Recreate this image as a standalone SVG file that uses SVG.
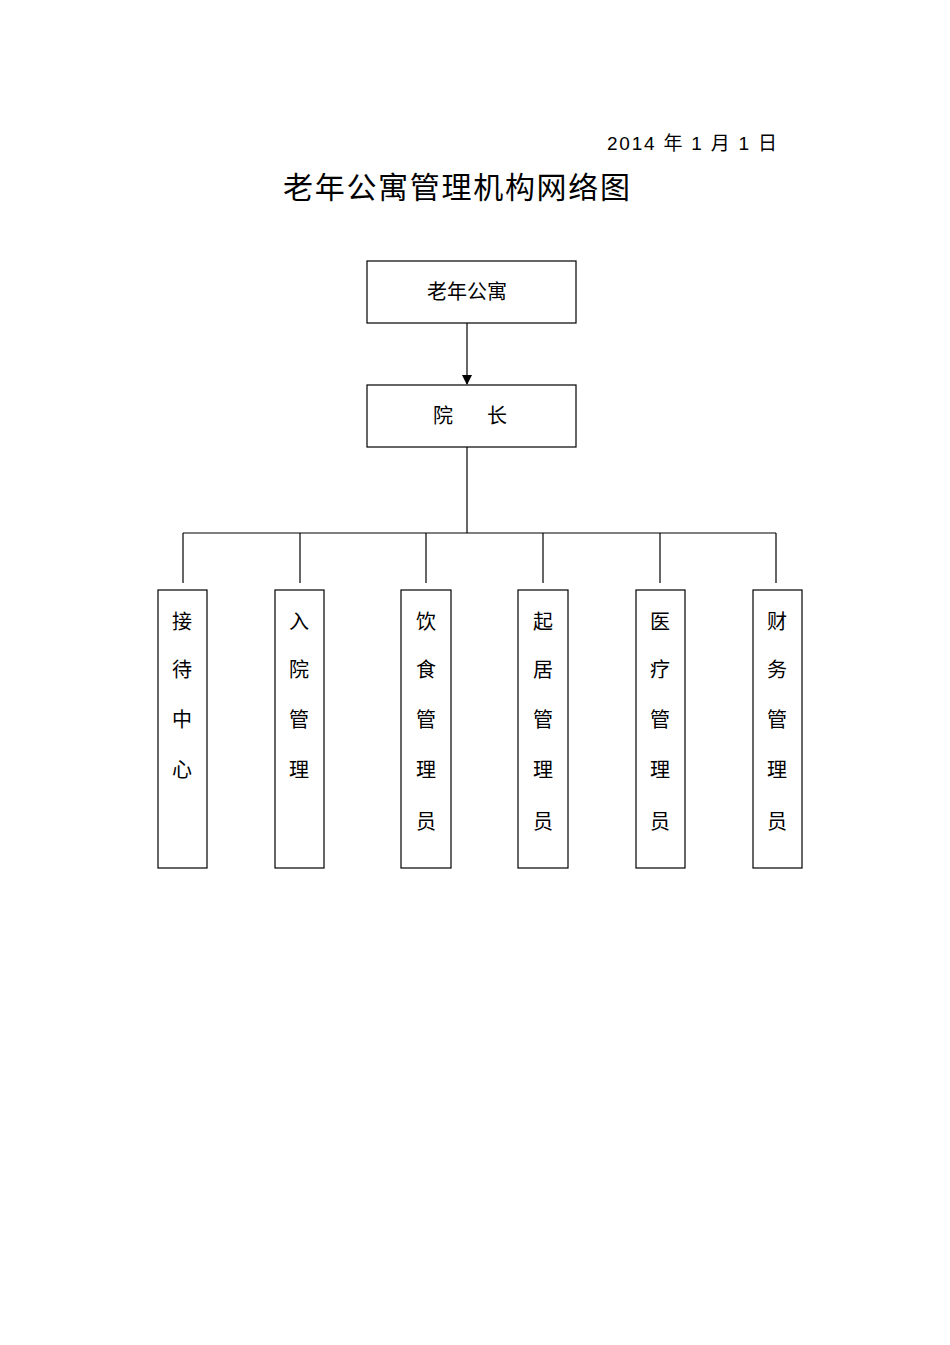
<svg xmlns="http://www.w3.org/2000/svg" width="950" height="1345" viewBox="0 0 950 1345">
<defs>
<style>
.t{font-family:"Liberation Sans","Noto Sans CJK SC",sans-serif;fill:#000}
.b{fill:#fff;stroke:#000;stroke-width:1.2}
.c{font-size:20px;text-anchor:middle}
.l{stroke:#000;stroke-width:1.2;fill:none}
</style>
<marker id="a" markerWidth="10" markerHeight="10" refX="9" refY="5" orient="auto" markerUnits="userSpaceOnUse"><path d="M0,0 L10,5 L0,10 z" fill="#000"/></marker>
</defs>
<rect width="950" height="1345" fill="#fff"/>
<text class="t" x="607" y="150" font-size="19" textLength="170" lengthAdjust="spacing">2014 年 1 月 1 日</text>
<text class="t" x="283" y="198" font-size="30" textLength="347" lengthAdjust="spacing">老年公寓管理机构网络图</text>
<g id="connectors">
<line class="l" x1="467" y1="323" x2="467" y2="384" marker-end="url(#a)" stroke-width="1.6"/>
<polyline class="l" points="467,447 467,533"/>
<line class="l" x1="183" y1="533" x2="776" y2="533"/>
<line class="l" x1="183" y1="533" x2="183" y2="583"/>
<line class="l" x1="300" y1="533" x2="300" y2="583"/>
<line class="l" x1="426" y1="533" x2="426" y2="583"/>
<line class="l" x1="543" y1="533" x2="543" y2="583"/>
<line class="l" x1="660" y1="533" x2="660" y2="583"/>
<line class="l" x1="776" y1="533" x2="776" y2="583"/>
</g>
<g id="n0"><rect class="b" x="367" y="261" width="209" height="62"/><text class="t c" x="467" y="299">老年公寓</text></g>
<g id="n1"><rect class="b" x="367" y="385" width="209" height="62"/><text class="t c"><tspan x="443" y="423">院</tspan><tspan x="497" y="423">长</tspan></text></g>
<g id="n2"><rect class="b" x="158" y="590" width="49" height="278"/><text class="t c" x="182"><tspan x="182" y="629">接</tspan><tspan x="182" y="677">待</tspan><tspan x="182" y="727">中</tspan><tspan x="182" y="777">心</tspan></text></g>
<g id="n3"><rect class="b" x="275" y="590" width="49" height="278"/><text class="t c" x="299"><tspan x="299" y="629">入</tspan><tspan x="299" y="677">院</tspan><tspan x="299" y="727">管</tspan><tspan x="299" y="777">理</tspan></text></g>
<g id="n4"><rect class="b" x="401" y="590" width="50" height="278"/><text class="t c" x="426"><tspan x="426" y="629">饮</tspan><tspan x="426" y="677">食</tspan><tspan x="426" y="727">管</tspan><tspan x="426" y="777">理</tspan><tspan x="426" y="829">员</tspan></text></g>
<g id="n5"><rect class="b" x="518" y="590" width="50" height="278"/><text class="t c" x="543"><tspan x="543" y="629">起</tspan><tspan x="543" y="677">居</tspan><tspan x="543" y="727">管</tspan><tspan x="543" y="777">理</tspan><tspan x="543" y="829">员</tspan></text></g>
<g id="n6"><rect class="b" x="636" y="590" width="49" height="278"/><text class="t c" x="660"><tspan x="660" y="629">医</tspan><tspan x="660" y="677">疗</tspan><tspan x="660" y="727">管</tspan><tspan x="660" y="777">理</tspan><tspan x="660" y="829">员</tspan></text></g>
<g id="n7"><rect class="b" x="753" y="590" width="49" height="278"/><text class="t c" x="777"><tspan x="777" y="629">财</tspan><tspan x="777" y="677">务</tspan><tspan x="777" y="727">管</tspan><tspan x="777" y="777">理</tspan><tspan x="777" y="829">员</tspan></text></g>
</svg>
